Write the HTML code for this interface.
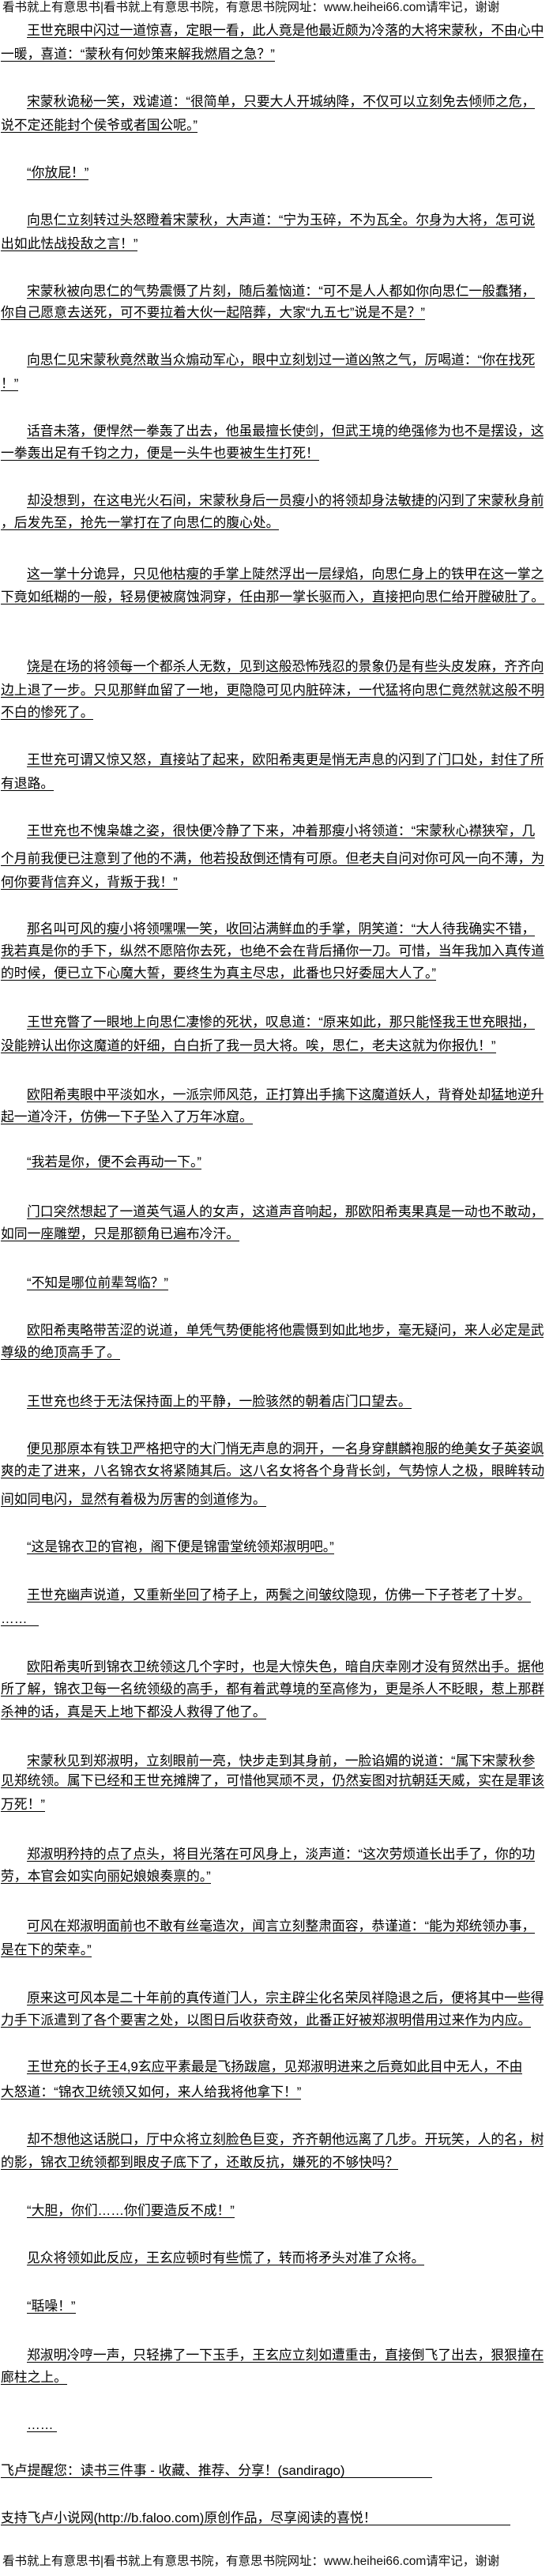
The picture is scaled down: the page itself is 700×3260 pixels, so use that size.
<!DOCTYPE html>
<html><head><meta charset="utf-8">
<style>
html,body{margin:0;padding:0;background:#fff;}
body{width:700px;height:3260px;position:relative;overflow:hidden;font-family:"Liberation Sans","Noto Sans CJK SC",sans-serif;color:#000;}
.h{position:absolute;left:3px;font-size:15.5px;line-height:18px;white-space:nowrap;color:#111;}
.L{position:absolute;left:1px;white-space:nowrap;font-size:16.8px;}
.L.i{left:34px;}
.L span{display:inline-block;line-height:16px;height:16px;border-bottom:1px solid #000;}
</style></head><body>
<div class="h" style="top:1px">看书就上有意思书|看书就上有意思书院，有意思书院网址：www.heihei66.com请牢记，谢谢</div>

<div class="L i" style="top:29px"><span>王世充眼中闪过一道惊喜，定眼一看，此人竟是他最近颇为冷落的大将宋蒙秋，不由心中</span></div>
<div class="L" style="top:59px"><span>一暖，喜道：“蒙秋有何妙策来解我燃眉之急？”</span></div>
<div class="L i" style="top:119px"><span>宋蒙秋诡秘一笑，戏谑道：“很简单，只要大人开城纳降，不仅可以立刻免去倾师之危，</span></div>
<div class="L" style="top:149px"><span>说不定还能封个侯爷或者国公呢。”</span></div>
<div class="L i" style="top:209px"><span>“你放屁！”</span></div>
<div class="L i" style="top:269px"><span>向思仁立刻转过头怒瞪着宋蒙秋，大声道：“宁为玉碎，不为瓦全。尔身为大将，怎可说</span></div>
<div class="L" style="top:299px"><span>出如此怯战投敌之言！”</span></div>
<div class="L i" style="top:359px"><span>宋蒙秋被向思仁的气势震慑了片刻，随后羞恼道：“可不是人人都如你向思仁一般蠢猪，</span></div>
<div class="L" style="top:386px"><span>你自己愿意去送死，可不要拉着大伙一起陪葬，大家“九五七”说是不是？”</span></div>
<div class="L i" style="top:446px"><span>向思仁见宋蒙秋竟然敢当众煽动军心，眼中立刻划过一道凶煞之气，厉喝道：“你在找死</span></div>
<div class="L" style="top:476px"><span>！”</span></div>
<div class="L i" style="top:536px"><span>话音未落，便悍然一拳轰了出去，他虽最擅长使剑，但武王境的绝强修为也不是摆设，这</span></div>
<div class="L" style="top:564px"><span>一拳轰出足有千钧之力，便是一头牛也要被生生打死！</span></div>
<div class="L i" style="top:624px"><span>却没想到，在这电光火石间，宋蒙秋身后一员瘦小的将领却身法敏捷的闪到了宋蒙秋身前</span></div>
<div class="L" style="top:652px"><span>，后发先至，抢先一掌打在了向思仁的腹心处。</span></div>
<div class="L i" style="top:717px"><span>这一掌十分诡异，只见他枯瘦的手掌上陡然浮出一层绿焰，向思仁身上的铁甲在这一掌之</span></div>
<div class="L" style="top:746px"><span>下竟如纸糊的一般，轻易便被腐蚀洞穿，任由那一掌长驱而入，直接把向思仁给开膛破肚了。</span></div>
<div class="L i" style="top:834px"><span>饶是在场的将领每一个都杀人无数，见到这般恐怖残忍的景象仍是有些头皮发麻，齐齐向</span></div>
<div class="L" style="top:864px"><span>边上退了一步。只见那鲜血留了一地，更隐隐可见内脏碎沫，一代猛将向思仁竟然就这般不明</span></div>
<div class="L" style="top:892px"><span>不白的惨死了。</span></div>
<div class="L i" style="top:952px"><span>王世充可谓又惊又怒，直接站了起来，欧阳希夷更是悄无声息的闪到了门口处，封住了所</span></div>
<div class="L" style="top:982px"><span>有退路。</span></div>
<div class="L i" style="top:1042px"><span>王世充也不愧枭雄之姿，很快便冷静了下来，冲着那瘦小将领道：“宋蒙秋心襟狭窄，几</span></div>
<div class="L" style="top:1077px"><span>个月前我便已注意到了他的不满，他若投敌倒还情有可原。但老夫自问对你可风一向不薄，为</span></div>
<div class="L" style="top:1107px"><span>何你要背信弃义，背叛于我！”</span></div>
<div class="L i" style="top:1166px"><span>那名叫可风的瘦小将领嘿嘿一笑，收回沾满鲜血的手掌，阴笑道：“大人待我确实不错，</span></div>
<div class="L" style="top:1194px"><span>我若真是你的手下，纵然不愿陪你去死，也绝不会在背后捅你一刀。可惜，当年我加入真传道</span></div>
<div class="L" style="top:1222px"><span>的时候，便已立下心魔大誓，要终生为真主尽忠，此番也只好委屈大人了。”</span></div>
<div class="L i" style="top:1284px"><span>王世充瞥了一眼地上向思仁凄惨的死状，叹息道：“原来如此，那只能怪我王世充眼拙，</span></div>
<div class="L" style="top:1314px"><span>没能辨认出你这魔道的奸细，白白折了我一员大将。唉，思仁，老夫这就为你报仇！”</span></div>
<div class="L i" style="top:1376px"><span>欧阳希夷眼中平淡如水，一派宗师风范，正打算出手擒下这魔道妖人，背脊处却猛地逆升</span></div>
<div class="L" style="top:1404px"><span>起一道冷汗，仿佛一下子坠入了万年冰窟。</span></div>
<div class="L i" style="top:1461px"><span>“我若是你，便不会再动一下。”</span></div>
<div class="L i" style="top:1524px"><span>门口突然想起了一道英气逼人的女声，这道声音响起，那欧阳希夷果真是一动也不敢动，</span></div>
<div class="L" style="top:1552px"><span>如同一座雕塑，只是那额角已遍布冷汗。</span></div>
<div class="L i" style="top:1614px"><span>“不知是哪位前辈驾临？”</span></div>
<div class="L i" style="top:1674px"><span>欧阳希夷略带苦涩的说道，单凭气势便能将他震慑到如此地步，毫无疑问，来人必定是武</span></div>
<div class="L" style="top:1702px"><span>尊级的绝顶高手了。</span></div>
<div class="L i" style="top:1764px"><span>王世充也终于无法保持面上的平静，一脸骇然的朝着店门口望去。</span></div>
<div class="L i" style="top:1824px"><span>便见那原本有铁卫严格把守的大门悄无声息的洞开，一名身穿麒麟袍服的绝美女子英姿飒</span></div>
<div class="L" style="top:1852px"><span>爽的走了进来，八名锦衣女将紧随其后。这八名女将各个身背长剑，气势惊人之极，眼眸转动</span></div>
<div class="L" style="top:1888px"><span>间如同电闪，显然有着极为厉害的剑道修为。</span></div>
<div class="L i" style="top:1948px"><span>“这是锦衣卫的官袍，阁下便是锦雷堂统领郑淑明吧。”</span></div>
<div class="L i" style="top:2009px"><span>王世充幽声说道，又重新坐回了椅子上，两鬓之间皱纹隐现，仿佛一下子苍老了十岁。</span></div>
<div class="L" style="top:2039px"><span>……&nbsp;&nbsp;&nbsp;</span></div>
<div class="L i" style="top:2100px"><span>欧阳希夷听到锦衣卫统领这几个字时，也是大惊失色，暗自庆幸刚才没有贸然出手。据他</span></div>
<div class="L" style="top:2128px"><span>所了解，锦衣卫每一名统领级的高手，都有着武尊境的至高修为，更是杀人不眨眼，惹上那群</span></div>
<div class="L" style="top:2157px"><span>杀神的话，真是天上地下都没人救得了他了。</span></div>
<div class="L i" style="top:2219px"><span>宋蒙秋见到郑淑明，立刻眼前一亮，快步走到其身前，一脸谄媚的说道：“属下宋蒙秋参</span></div>
<div class="L" style="top:2244px"><span>见郑统领。属下已经和王世充摊牌了，可惜他冥顽不灵，仍然妄图对抗朝廷天威，实在是罪该</span></div>
<div class="L" style="top:2274px"><span>万死！”</span></div>
<div class="L i" style="top:2337px"><span>郑淑明矜持的点了点头，将目光落在可风身上，淡声道：“这次劳烦道长出手了，你的功</span></div>
<div class="L" style="top:2365px"><span>劳，本官会如实向丽妃娘娘奏禀的。”</span></div>
<div class="L i" style="top:2428px"><span>可风在郑淑明面前也不敢有丝毫造次，闻言立刻整肃面容，恭谨道：“能为郑统领办事，</span></div>
<div class="L" style="top:2458px"><span>是在下的荣幸。”</span></div>
<div class="L i" style="top:2519px"><span>原来这可风本是二十年前的真传道门人，宗主辟尘化名荣凤祥隐退之后，便将其中一些得</span></div>
<div class="L" style="top:2547px"><span>力手下派遣到了各个要害之处，以图日后收获奇效，此番正好被郑淑明借用过来作为内应。</span></div>
<div class="L i" style="top:2606px"><span>王世充的长子王4,9玄应平素最是飞扬跋扈，见郑淑明进来之后竟如此目中无人，不由</span></div>
<div class="L" style="top:2638px"><span>大怒道：“锦衣卫统领又如何，来人给我将他拿下！”</span></div>
<div class="L i" style="top:2698px"><span>却不想他这话脱口，厅中众将立刻脸色巨变，齐齐朝他远离了几步。开玩笑，人的名，树</span></div>
<div class="L" style="top:2727px"><span>的影，锦衣卫统领都到眼皮子底下了，还敢反抗，嫌死的不够快吗？</span></div>
<div class="L i" style="top:2788px"><span>“大胆，你们……你们要造反不成！”</span></div>
<div class="L i" style="top:2848px"><span>见众将领如此反应，王玄应顿时有些慌了，转而将矛头对准了众将。</span></div>
<div class="L i" style="top:2909px"><span>“聒噪！”</span></div>
<div class="L i" style="top:2971px"><span>郑淑明冷哼一声，只轻拂了一下玉手，王玄应立刻如遭重击，直接倒飞了出去，狠狠撞在</span></div>
<div class="L" style="top:2999px"><span>廊柱之上。</span></div>
<div class="L i" style="top:3059px"><span>……&nbsp;</span></div>
<div class="L" style="top:3117px"><span style="width:546px">飞卢提醒您：读书三件事 - 收藏、推荐、分享！(sandirago)</span></div>
<div class="L" style="top:3177px"><span style="width:645px">支持飞卢小说网(http://b.faloo.com)原创作品，尽享阅读的喜悦！</span></div>

<div class="h" style="top:3233px">看书就上有意思书|看书就上有意思书院，有意思书院网址：www.heihei66.com请牢记，谢谢</div>
</body></html>
